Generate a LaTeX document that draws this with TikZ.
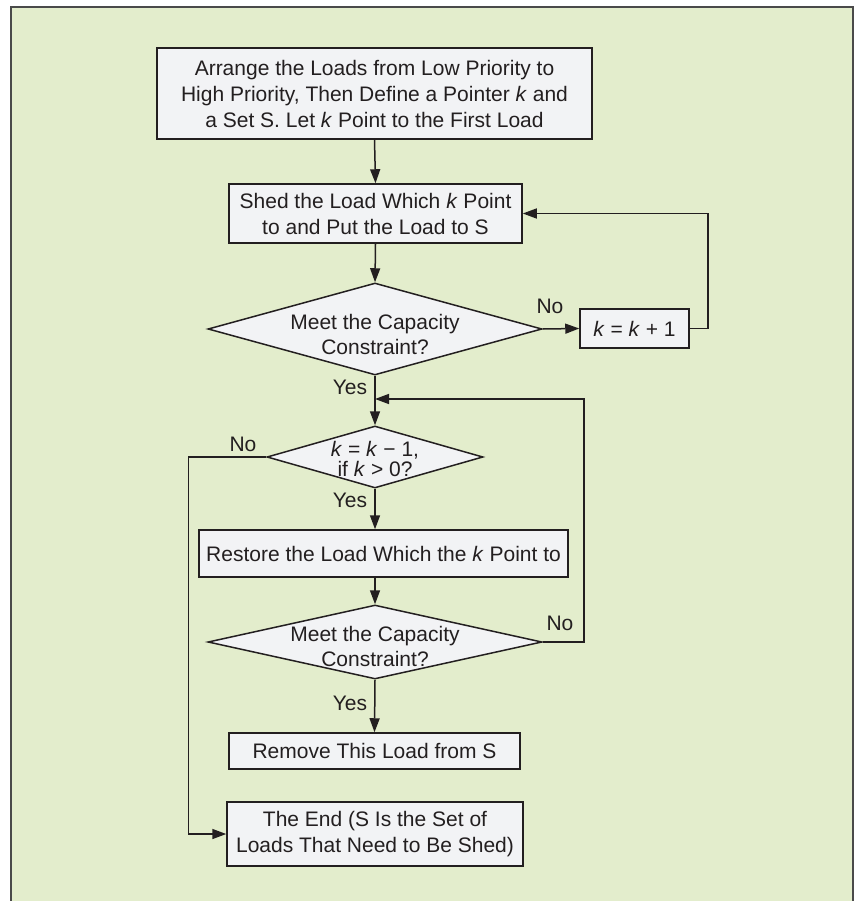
\documentclass[tikz,border=0pt]{standalone}
\usepackage{fontspec}
\setmainfont{Liberation Sans}
\usetikzlibrary{shapes.geometric,arrows.meta}
\definecolor{panel}{HTML}{E3EDCC}
\definecolor{boxfill}{HTML}{F2F3F5}
\definecolor{ink}{HTML}{231F20}
\definecolor{rim}{HTML}{4A4A4A}
\tikzset{
  every node/.style={text=ink, font=\fontsize{21}{26}\selectfont},
  procbox/.style={draw=ink, line width=1.5pt, fill=boxfill, rectangle, align=center, inner sep=0pt},
  decide/.style={draw=ink, line width=1.5pt, fill=boxfill, diamond, inner sep=0pt},
  dtext/.style={align=center, font=\fontsize{21}{25}\selectfont},
  arr/.style={draw=ink, line width=1.5pt, -{Triangle[length=14pt,width=10pt]}},
  tag/.style={inner sep=0pt}
}
\newcommand{\kk}{\textit{k}}
\begin{document}
\begin{tikzpicture}[x=1pt,y=-1pt]
  \useasboundingbox (0,0) rectangle (859,901);
  % panel
  \fill[white] (0,0) rectangle (859,901);
  \draw[rim, line width=2pt, fill=panel] (11,7) rectangle (853,920);

  % process boxes
  \node[procbox, minimum width=435pt, minimum height=91pt] (b1) at (374.5,93.5)
    {Arrange the Loads from Low Priority to\\High Priority, Then Define a Pointer \kk{} and\\a Set S. Let \kk{} Point to the First Load};
  \node[procbox, minimum width=293pt, minimum height=59pt] (b2) at (375.5,213.5)
    {Shed the Load Which \kk{} Point\\to and Put the Load to S};
  \node[procbox, minimum width=109pt, minimum height=39pt] (b3) at (634.5,328.5)
    {\kk{} = \kk{} + 1};
  \node[procbox, minimum width=369pt, minimum height=47pt] (b4) at (383.5,553.5)
    {Restore the Load Which the \kk{} Point to};
  \node[procbox, minimum width=291pt, minimum height=36pt] (b5) at (374.5,751)
    {Remove This Load from S};
  \node[procbox, minimum width=296pt, minimum height=64pt] (b6) at (375,834)
    {The End (S Is the Set of\\Loads That Need to Be Shed)};

  % decisions
  \node[decide, minimum width=334pt, minimum height=92pt] (d1) at (375,329) {};
  \node[dtext] (t1) at (375,334) {Meet the Capacity\\Constraint?};
  \node[decide, minimum width=216pt, minimum height=62pt] (d2) at (375,457) {};
  \node[dtext, font=\fontsize{21}{20}\selectfont] (t2) at (375,459) {\kk{} = \kk{} − 1,\\if \kk{} > 0?};
  \node[decide, minimum width=334pt, minimum height=74pt] (d3) at (375,642) {};
  \node[dtext] (t3) at (375,646) {Meet the Capacity\\Constraint?};

  % connector bends
  \coordinate (j) at (375,399);

  % connectors
  \draw[arr] (b1.south) -- (b2.north);
  \draw[arr] (b2.south) -- (d1.north);
  \draw[arr] (d1.east) -- (b3.west);
  \draw[arr] (b3.east) -- ++(18,0) |- (b2.east);
  \draw[arr] (d1.south) -- (d2.north);
  \draw[arr] (d3.east) -- ++(41,0) |- (j);
  \draw[arr] (d2.west) -- ++(-78,0) |- (b6.west);
  \draw[arr] (d2.south) -- (d2.south |- b4.north);
  \draw[arr] (d2.south |- b4.south) -- (d3.north);
  \draw[arr] (d3.south) -- (b5.north);

  % branch labels
  \node[tag] (n1) at (550,306) {No};
  \node[tag] (y1) at (350,387) {Yes};
  \node[tag] (n2) at (243,444) {No};
  \node[tag] (y2) at (350,500) {Yes};
  \node[tag] (n3) at (560,623) {No};
  \node[tag] (y3) at (350,703) {Yes};
\end{tikzpicture}
\end{document}
